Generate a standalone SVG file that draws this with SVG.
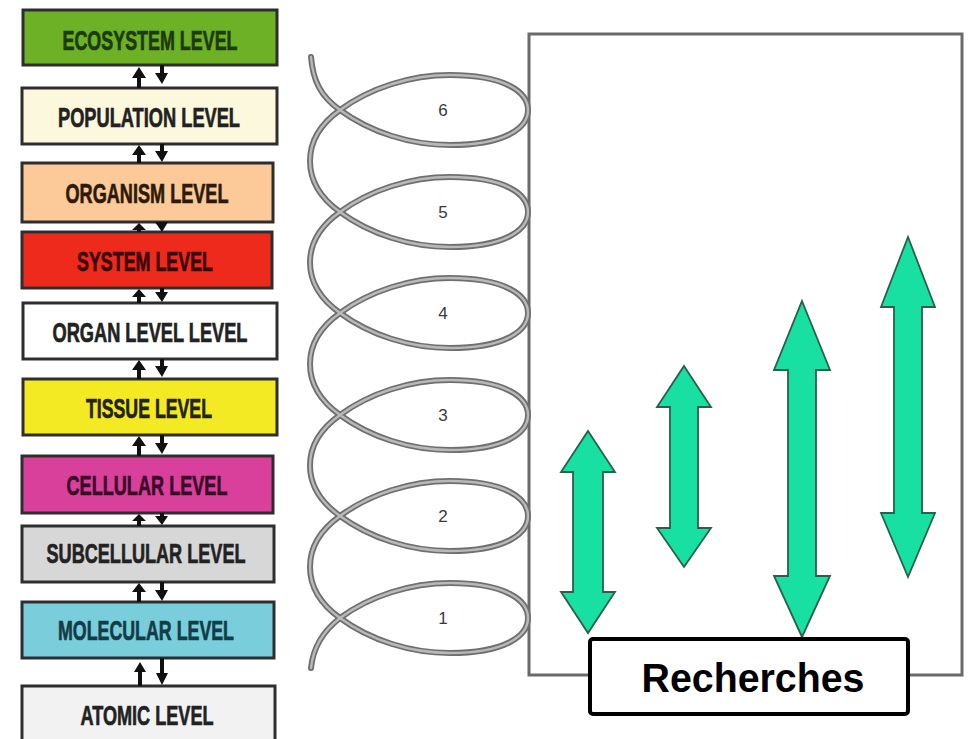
<svg xmlns="http://www.w3.org/2000/svg" width="971" height="739" viewBox="0 0 971 739">
  <style>
    .lvl rect { stroke: #2e2e2e; stroke-width: 3; }
    .lvl text { font-family: "Liberation Sans Narrow", "Liberation Sans", Arial, sans-serif; font-weight: bold; font-size: 28px; text-anchor: middle; fill: #222; stroke: currentColor; stroke-width: 0.7; color: #222; }
    .link { fill: #111; }
    .num { font-family: "Liberation Sans", Arial, sans-serif; font-size: 17px; fill: #3a3a3a; text-anchor: middle; }
    .span { fill: #17e0a2; stroke: #2a5f4c; stroke-width: 1.8; stroke-linejoin: miter; }
    .coil-outer { fill: none; stroke: #6f6f6f; stroke-width: 6; stroke-linecap: round; }
    .coil-inner { fill: none; stroke: #b9b9b9; stroke-width: 2.4; stroke-linecap: round; }
  </style>
  <defs>
    <path id="coil" d="M 311 57 C 313 80, 320 96, 340 110
      C 370 132, 410 145, 450 145 C 505 145, 528 128, 528 110 C 528 92, 505 75, 450 75 C 410 75, 370 88, 340 110
      C 319 125, 310 142, 310 161 C 310 180, 319 197, 340 212
      C 370 234, 410 247, 450 247 C 505 247, 528 230, 528 212 C 528 194, 505 177, 450 177 C 410 177, 370 190, 340 212
      C 319 227, 310 244, 310 262.5 C 310 281, 319 298, 340 313
      C 370 335, 410 348, 450 348 C 505 348, 528 331, 528 313 C 528 295, 505 278, 450 278 C 410 278, 370 291, 340 313
      C 319 328, 310 345, 310 364 C 310 383, 319 400, 340 415
      C 370 437, 410 450, 450 450 C 505 450, 528 433, 528 415 C 528 397, 505 380, 450 380 C 410 380, 370 393, 340 415
      C 319 430, 310 447, 310 465.5 C 310 484, 319 501, 340 516
      C 370 538, 410 551, 450 551 C 505 551, 528 534, 528 516 C 528 498, 505 481, 450 481 C 410 481, 370 494, 340 516
      C 319 531, 310 548, 310 567 C 310 586, 319 603, 340 618
      C 370 640, 410 653, 450 653 C 505 653, 528 636, 528 618 C 528 600, 505 583, 450 583 C 410 583, 370 596, 340 618
      C 322 632, 313 648, 311 668"/>
  </defs>

  <rect width="971" height="739" fill="#ffffff"/>

  <!-- frame on the right -->
  <rect x="529" y="34" width="433" height="641" fill="none" stroke="#6a6a6a" stroke-width="3"/>

  <!-- level boxes -->
  <g id="ecosystem" class="lvl">
    <rect x="23" y="10" width="254" height="55" fill="#6cb126"/>
    <text x="150" y="50" textLength="175" lengthAdjust="spacingAndGlyphs" style="fill:#1d3a0e;color:#1d3a0e">ECOSYSTEM LEVEL</text>
  </g>
  <g id="population" class="lvl">
    <rect x="22" y="88" width="255" height="56" fill="#fcf8dd"/>
    <text x="149" y="127" textLength="182" lengthAdjust="spacingAndGlyphs">POPULATION LEVEL</text>
  </g>
  <g id="organism" class="lvl">
    <rect x="22" y="163" width="251" height="59" fill="#fbca98"/>
    <text x="147" y="203" textLength="163" lengthAdjust="spacingAndGlyphs" style="fill:#2e1a08;color:#2e1a08">ORGANISM LEVEL</text>
  </g>
  <g id="system" class="lvl">
    <rect x="22" y="232" width="250" height="56" fill="#ee2a1c"/>
    <text x="145" y="271" textLength="136" lengthAdjust="spacingAndGlyphs" style="fill:#3a0606;color:#3a0606">SYSTEM LEVEL</text>
  </g>
  <g id="organ" class="lvl">
    <rect x="23" y="303" width="254" height="56" fill="#ffffff"/>
    <text x="150" y="342" textLength="195" lengthAdjust="spacingAndGlyphs">ORGAN LEVEL LEVEL</text>
  </g>
  <g id="tissue" class="lvl">
    <rect x="23" y="379" width="254" height="56" fill="#f4ea23"/>
    <text x="149" y="418" textLength="126" lengthAdjust="spacingAndGlyphs">TISSUE LEVEL</text>
  </g>
  <g id="cellular" class="lvl">
    <rect x="22" y="456" width="251" height="57" fill="#d9409c"/>
    <text x="147" y="495" textLength="161" lengthAdjust="spacingAndGlyphs" style="fill:#3a0a26;color:#3a0a26">CELLULAR LEVEL</text>
  </g>
  <g id="subcellular" class="lvl">
    <rect x="22" y="526" width="252" height="56" fill="#d7d7d7"/>
    <text x="146" y="563" textLength="199" lengthAdjust="spacingAndGlyphs">SUBCELLULAR LEVEL</text>
  </g>
  <g id="molecular" class="lvl">
    <rect x="22" y="602" width="252" height="56" fill="#7acedc"/>
    <text x="146" y="640" textLength="176" lengthAdjust="spacingAndGlyphs" style="fill:#123c46;color:#123c46">MOLECULAR LEVEL</text>
  </g>
  <g id="atomic" class="lvl">
    <rect x="22" y="686" width="253" height="60" fill="#f2f2f2"/>
    <text x="147" y="725" textLength="133" lengthAdjust="spacingAndGlyphs">ATOMIC LEVEL</text>
  </g>

  <!-- up/down links between neighbouring levels -->
  <g id="links" class="link">
    <polygon points="139,67 146,78 141,78 141,88 137,88 137,78 132,78"/>
    <polygon points="160,65 164,65 164,73 168,73 162,84 155,73 160,73"/>
    <polygon points="139,145 146,155 141,155 141,163 137,163 137,155 132,155"/>
    <polygon points="160,144 164,144 164,151 168,151 162,162 155,151 160,151"/>
    <polygon points="139,223 146,230 141,230 141,232 137,232 137,230 132,230"/>
    <polygon points="160,222 164,222 164,222 168,222 162,232 155,222 160,222"/>
    <polygon points="139,289 146,297 141,297 141,303 137,303 137,297 132,297"/>
    <polygon points="160,288 164,288 164,292 168,292 162,302 155,292 160,292"/>
    <polygon points="139,360 146,370 141,370 141,379 137,379 137,370 132,370"/>
    <polygon points="160,359 164,359 164,366 168,366 162,377 155,366 160,366"/>
    <polygon points="139,436 146,446 141,446 141,456 137,456 137,446 132,446"/>
    <polygon points="160,435 164,435 164,443 168,443 162,454 155,443 160,443"/>
    <polygon points="139,514 146,521 141,521 141,526 137,526 137,521 132,521"/>
    <polygon points="160,513 164,513 164,516 168,516 162,525 155,516 160,516"/>
    <polygon points="139,583 146,592 141,592 141,602 137,602 137,592 132,592"/>
    <polygon points="160,582 164,582 164,590 168,590 162,601 155,590 160,590"/>
    <polygon points="140,662 146,672 142,672 142,686 138,686 138,672 134,672"/>
    <polygon points="160,658 164,658 164,673 168,673 162,685 156,673 160,673"/>
  </g>

  <!-- coil -->
  <g id="coil-group">
    <use href="#coil" class="coil-outer"/>
    <use href="#coil" class="coil-inner"/>
    <text class="num" x="443" y="116">6</text>
    <text class="num" x="443" y="218">5</text>
    <text class="num" x="443" y="319">4</text>
    <text class="num" x="443" y="421">3</text>
    <text class="num" x="443" y="522">2</text>
    <text class="num" x="443" y="624">1</text>
  </g>

  <!-- double-headed range arrows -->
  <g id="ranges">
    <polygon class="span" points="588,431 615,472 603,472 603,592 615,592 588,633 561,592 573,592 573,472 561,472"/>
    <polygon class="span" points="684,366 711,407 698,407 698,528 711,528 684,567 657,528 670,528 670,407 657,407"/>
    <polygon class="span" points="802,301 830,370 816,370 816,576 830,576 802,637 774,576 788,576 788,370 774,370"/>
    <polygon class="span" points="908,237 935,307 922,307 922,513 935,513 908,577 881,513 894,513 894,307 881,307"/>
  </g>

  <!-- caption box -->
  <g id="recherches">
    <rect x="590" y="639" width="318" height="75" rx="3" fill="#ffffff" stroke="#000000" stroke-width="4"/>
    <text x="753" y="692" font-family="Liberation Sans, Arial, sans-serif" font-weight="bold" font-size="41" textLength="223" lengthAdjust="spacingAndGlyphs" text-anchor="middle" fill="#000">Recherches</text>
  </g>
</svg>
